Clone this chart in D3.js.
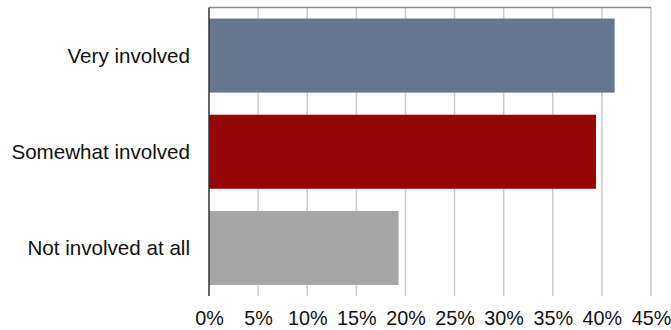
<!DOCTYPE html>
<html>
<head>
<meta charset="utf-8">
<script src="https://cdn.jsdelivr.net/npm/d3@7/dist/d3.min.js"></script>
<style>
  html, body { margin: 0; padding: 0; background: #fff; }
  svg { display: block; }
  text { font-family: "Liberation Sans", Arial, Helvetica, sans-serif; fill: #111; }
</style>
</head>
<body>
<svg id="chart" width="671" height="330"></svg>
<script>
// Involvement levels and their share of respondents (%)
const categories = ["Very involved", "Somewhat involved", "Not involved at all"];
const values = [41.3, 39.4, 19.3];
const colors = ["#67768f", "#960606", "#a6a6a6"];
const tickValues = [0, 5, 10, 15, 20, 25, 30, 35, 40, 45];

const svg = d3.select("#chart");
const margin = { top: 7.5, left: 209 };
const plotRight = 651;
const plotBottom = 296;

const x = d3.scaleLinear().domain([0, 45]).range([margin.left, plotRight]);
const y = d3.scaleBand()
  .domain(categories)
  .range([margin.top, plotBottom])
  .paddingInner(0.23)
  .paddingOuter(0.115);

// vertical gridlines
svg.append("g")
  .selectAll("line")
  .data(tickValues.slice(1))
  .join("line")
  .attr("x1", d => x(d)).attr("x2", d => x(d))
  .attr("y1", margin.top).attr("y2", plotBottom)
  .attr("stroke", "#cbcbcb")
  .attr("stroke-width", 1.5);

// top frame line
svg.append("line")
  .attr("x1", x(0)).attr("x2", x(45))
  .attr("y1", margin.top).attr("y2", margin.top)
  .attr("stroke", "#8c8c8c")
  .attr("stroke-width", 1.5);

// bars
svg.append("g")
  .selectAll("rect")
  .data(categories)
  .join("rect")
  .attr("x", x(0))
  .attr("y", d => y(d))
  .attr("width", (d, i) => x(values[i]) - x(0))
  .attr("height", y.bandwidth())
  .attr("fill", (d, i) => colors[i]);

// category axis line
svg.append("line")
  .attr("x1", x(0)).attr("x2", x(0))
  .attr("y1", margin.top).attr("y2", plotBottom)
  .attr("stroke", "#333")
  .attr("stroke-width", 1.5);

// category labels
const yAxis = svg.append("g")
  .attr("transform", `translate(${x(0) - 19},0)`)
  .call(d3.axisLeft(y).tickSize(0).tickPadding(0));
yAxis.select(".domain").remove();
yAxis.selectAll("text")
  .attr("font-size", 20.6)
  .attr("font-family", "Liberation Sans, Arial, sans-serif")
  .attr("fill", "#111")
  .attr("dy", "0.35em");

// percentage axis
const xAxis = svg.append("g")
  .attr("transform", `translate(0,${plotBottom})`)
  .call(d3.axisBottom(x).tickValues(tickValues).tickSize(0).tickPadding(0)
    .tickFormat(d => d + "%"));
xAxis.select(".domain").remove();
xAxis.selectAll("text")
  .attr("font-size", 19.8)
  .attr("font-family", "Liberation Sans, Arial, sans-serif")
  .attr("fill", "#111")
  .attr("y", 29)
  .attr("dy", 0);
</script>
</body>
</html>
